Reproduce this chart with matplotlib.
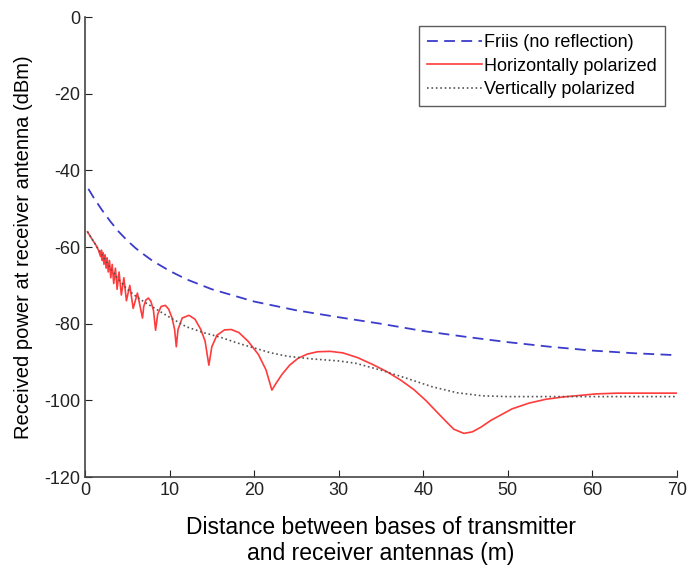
import matplotlib.pyplot as plt

plt.rcParams['font.family'] = ['Liberation Sans', 'DejaVu Sans']
plt.rcParams['axes.unicode_minus'] = False

# Friis free-space curve
friis_x = [0.4, 1, 2, 3, 4, 5, 6, 7, 8, 10, 12, 15, 20, 25, 30, 35, 40, 45, 50, 55, 60, 65, 70]
friis_y = [-44.8, -47, -50.3, -53.3, -56, -58.3, -60.3, -62, -63.6, -66.2, -68.4, -71, -74.2,
           -76.5, -78.3, -80, -81.9, -83.4, -84.8, -86, -87, -87.7, -88.2]

# Horizontally polarized (two-ray, deep nulls)
horiz_x = [0.3, 0.8, 1.3, 1.6, 1.85, 1.95, 2.05, 2.15, 2.25, 2.38, 2.5, 2.62, 2.75, 2.9,
           3.05, 3.22, 3.4, 3.6, 3.8, 4.03, 4.3, 4.6, 4.9, 5.3, 5.7, 6.2, 6.8, 6.95,
           7.2, 7.5, 7.8, 8.1, 8.35, 8.6, 9.0, 9.5, 9.9, 10.3, 10.6, 10.8, 11.0, 11.5,
           12.3, 13.0, 13.7, 14.2, 14.65, 15.0, 15.6, 16.5, 17.3, 18.2, 19.3, 20.5,
           21.4, 22.1, 22.6, 23.3, 24.2, 25.2, 26.3, 27.5, 29, 30.5, 32.2, 34, 35.7,
           37.4, 38.9, 40.3, 41.6, 42.7, 43.6, 44.8, 45.8, 46.8, 48, 49, 50.5, 52.5,
           54.5, 56.5, 58.5, 60.4, 63, 66, 70]
horiz_y = [-56, -57.8, -59.5, -60.8, -62.5, -60.8, -63.5, -61.5, -64.5, -62, -65.5, -62.8,
           -66.5, -63.5, -68, -64.5, -69.5, -65.5, -71, -66.5, -72.5, -68, -74, -70, -76,
           -72, -78.5, -75.5, -73.8, -73.3, -74.2, -76.5, -81.7, -77.5, -75.5, -75.2,
           -76.2, -78.5, -81.5, -86, -81.5, -78.5, -77.8, -78.8, -81.5, -84.5, -90.8,
           -86, -83, -81.6, -81.5, -82.3, -84.6, -88, -92, -97.3, -95.5, -93.2, -90.8,
           -89, -87.9, -87.3, -87.2, -87.6, -88.8, -90.6, -92.5, -94.8, -97.2, -100,
           -103, -105.5, -107.5, -108.6, -108.2, -107, -105.2, -104, -102.2, -100.7,
           -99.7, -99.1, -98.7, -98.3, -98.1, -98.1, -98.1]

# Vertically polarized
vert_x = [0.3, 1, 2, 3, 4, 5, 6, 7, 8.5, 10, 12, 14, 16, 18, 20, 22, 24, 27, 30, 32, 35,
          38, 41, 44, 47, 50, 55, 60, 65, 70]
vert_y = [-56, -58.5, -62, -65.5, -68.5, -71, -72.8, -74.3, -76.3, -78.3, -80.8, -82.3,
          -83.5, -85, -86.3, -87.6, -88.5, -89.2, -89.7, -90.3, -92.1, -94.2, -96.4, -98,
          -98.8, -99, -99, -99, -99, -99]

fig = plt.figure(figsize=(6.88, 5.7), dpi=100)
ax = fig.add_axes([0.1235, 0.163, 0.8605, 0.807])

ax.plot(friis_x, friis_y, '--', color='#3c3ccc', lw=1.3, dashes=(6, 3.5), label='Friis (no reflection)')
ax.plot(horiz_x, horiz_y, '-', color='#ff3b3b', lw=1.2, label='Horizontally polarized')
ax.plot(vert_x, vert_y, ':', color='#555555', lw=1.2, label='Vertically polarized')

ax.set_xlim(0, 70)
ax.set_ylim(-120, 0)
ax.set_xticks(range(0, 71, 10))
ax.set_yticks(range(-120, 1, 20))
ax.tick_params(direction='in', length=5, labelsize=13, colors='#222222')
for s in ['top', 'right']:
    ax.spines[s].set_visible(False)
for s in ['left', 'bottom']:
    ax.spines[s].set_color('#444444')
    ax.spines[s].set_linewidth(1.2)

ax.set_xlabel('Distance between bases of transmitter\nand receiver antennas (m)', fontsize=16.5, labelpad=12)
ax.set_ylabel('Received power at receiver antenna (dBm)', fontsize=14.5, labelpad=8)

leg = ax.legend(loc='upper right', bbox_to_anchor=(0.98, 0.98), borderaxespad=0, fontsize=13,
                fancybox=False, handlelength=3.0, handletextpad=0.15, labelspacing=0.35,
                borderpad=0.45)
leg.get_frame().set_edgecolor('#333333')
leg.get_frame().set_linewidth(1.0)

fig.savefig('out.png', dpi=100)
